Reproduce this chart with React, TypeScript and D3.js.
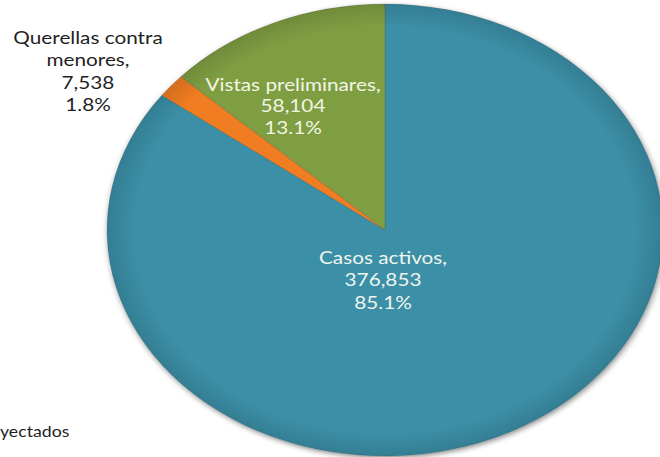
import React from 'react';
import * as d3 from 'd3';

// slice data, clockwise from 12 o'clock
const categories = ['Casos activos', 'Querellas contra menores', 'Vistas preliminares'];
const values = [376853, 7538, 58104];
const percents = ['85.1%', '1.8%', '13.1%'];
const colors = ['#3a8fa7', '#f07d22', '#7f9e42'];

// label lines as Excel wrapped them
const labelLines = [
  ['Casos activos,', '376,853', '85.1%'],
  ['Querellas contra', 'menores,', '7,538', '1.8%'],
  ['Vistas preliminares,', '58,104', '13.1%'],
];
// label anchors (layout only)
const labelPos = [
  { x: 383, y: 264, fill: '#f2f5ee', gap: 22.5 },
  { x: 88, y: 44, fill: '#1f1f1f', gap: 22.5 },
  { x: 293, y: 91, fill: '#f2f5e6', gap: 21.5 },
];

const W = 660, H = 457;
const cx = 385, cy = 230;
const rx = 278, ry = 226;
const sx = 1.22; // the source picture is stretched horizontally

export default function App() {
  const pie = d3.pie<number>().sort(null).value(d => d);
  const arcs = pie(values);
  const arc = d3.arc<d3.PieArcDatum<number>>().innerRadius(0).outerRadius(ry);

  return (
    <svg width={W} height={H} style={{ position: 'absolute', left: 0, top: 0 }}
      fontFamily="Lato, 'Open Sans', sans-serif">
      <defs>
        <filter id="sh" x="-20%" y="-20%" width="140%" height="140%">
          <feDropShadow dx="1" dy="2" stdDeviation="2.5" floodColor="#000" floodOpacity="0.45" />
        </filter>
        <radialGradient id="shade" cx="50%" cy="50%" r="50%">
          <stop offset="90%" stopColor="#000" stopOpacity="0" />
          <stop offset="100%" stopColor="#000" stopOpacity="0.12" />
        </radialGradient>
      </defs>
      <rect width={W} height={H} fill="#fff" />
      <g transform={`translate(${cx},${cy}) scale(${rx / ry},1)`}>
        <g filter="url(#sh)">
          {arcs.map((a, i) => (
            <path key={categories[i]} d={arc(a) || ''} fill={colors[i]}
              stroke="rgba(0,0,0,0.12)" strokeWidth={0.8} />
          ))}
        </g>
        <circle r={ry} fill="url(#shade)" />
      </g>
      {labelLines.map((lines, i) => (
        <text key={categories[i]} transform={`translate(${labelPos[i].x},${labelPos[i].y}) scale(${sx},1)`}
          textAnchor="middle" fontSize={17} fill={labelPos[i].fill}>
          {lines.map((l, j) => (
            <tspan key={j} x={0} dy={j === 0 ? 0 : labelPos[i].gap}>{l}</tspan>
          ))}
        </text>
      ))}
      <text transform={`translate(0,437) scale(${sx},1)`} fontSize={14.5} fill="#1f1f1f">yectados</text>
    </svg>
  );
}
